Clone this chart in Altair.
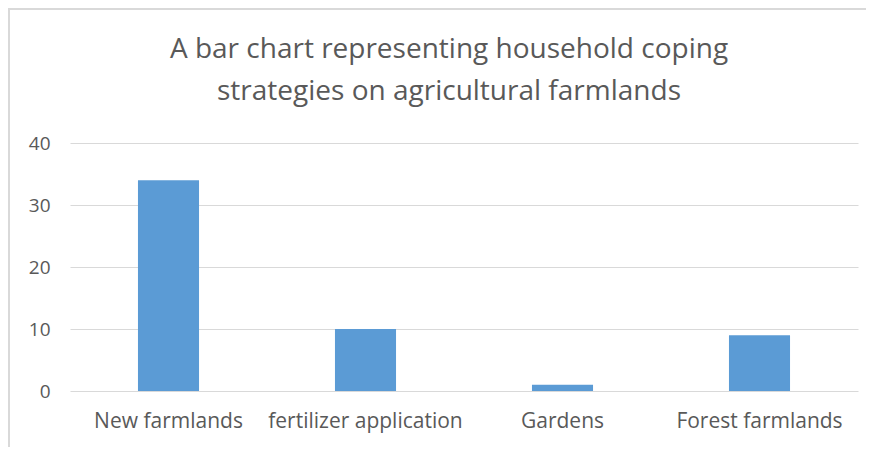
import altair as alt
import pandas as pd

categories = ["New farmlands", "fertilizer application", "Gardens", "Forest farmlands"]
values = [34, 10, 1, 9]
y_ticks = [0, 10, 20, 30, 40]
title_lines = ["A bar chart representing household coping", "strategies on agricultural farmlands"]

df = pd.DataFrame({"category": categories, "value": values})

FONT = "Open Sans"
GREY = "#595959"
BORDER = "#d9d9d9"

bars = alt.Chart(df).mark_bar(color="#5B9BD5").encode(
    x=alt.X("category:N", sort=categories, title=None,
            scale=alt.Scale(paddingInner=0.69, paddingOuter=0.345),
            axis=alt.Axis(labelAngle=0, labelFontSize=21, labelColor=GREY, labelFont=FONT,
                          labelPadding=19, labelLimit=400, ticks=False, domain=False, grid=False)),
    y=alt.Y("value:Q", title=None,
            scale=alt.Scale(domain=[0, 40], nice=False),
            axis=alt.Axis(values=y_ticks, labelFontSize=19, labelColor=GREY, labelFont=FONT,
                          labelPadding=20, ticks=False, domain=False, grid=True,
                          gridColor="#d9d9d9", gridWidth=1)),
)

title1 = alt.Chart(pd.DataFrame({"t": [title_lines[0]]})).mark_text(
    font=FONT, fontSize=28, color=GREY, align="center", baseline="middle"
).encode(text="t:N", x=alt.value(379), y=alt.value(-93))
title2 = alt.Chart(pd.DataFrame({"t": [title_lines[1]]})).mark_text(
    font=FONT, fontSize=28, color=GREY, align="center", baseline="middle"
).encode(text="t:N", x=alt.value(379), y=alt.value(-51))

one = pd.DataFrame({"k": [0]})
border_left = alt.Chart(one).mark_rect(color=BORDER).encode(
    x=alt.value(-62), x2=alt.value(-60), y=alt.value(-135), y2=alt.value(304)
)
border_top = alt.Chart(one).mark_rect(color=BORDER).encode(
    x=alt.value(-62), x2=alt.value(796), y=alt.value(-135), y2=alt.value(-133)
)

chart = alt.layer(bars, title1, title2, border_left, border_top).properties(
    width=788, height=248,
    autosize=alt.AutoSizeParams(type="none"),
    padding={"left": 62, "top": 135, "right": 8, "bottom": 56},
).configure_view(stroke=None)

chart.save("out.html", embed_options={"renderer": "svg", "actions": False})
